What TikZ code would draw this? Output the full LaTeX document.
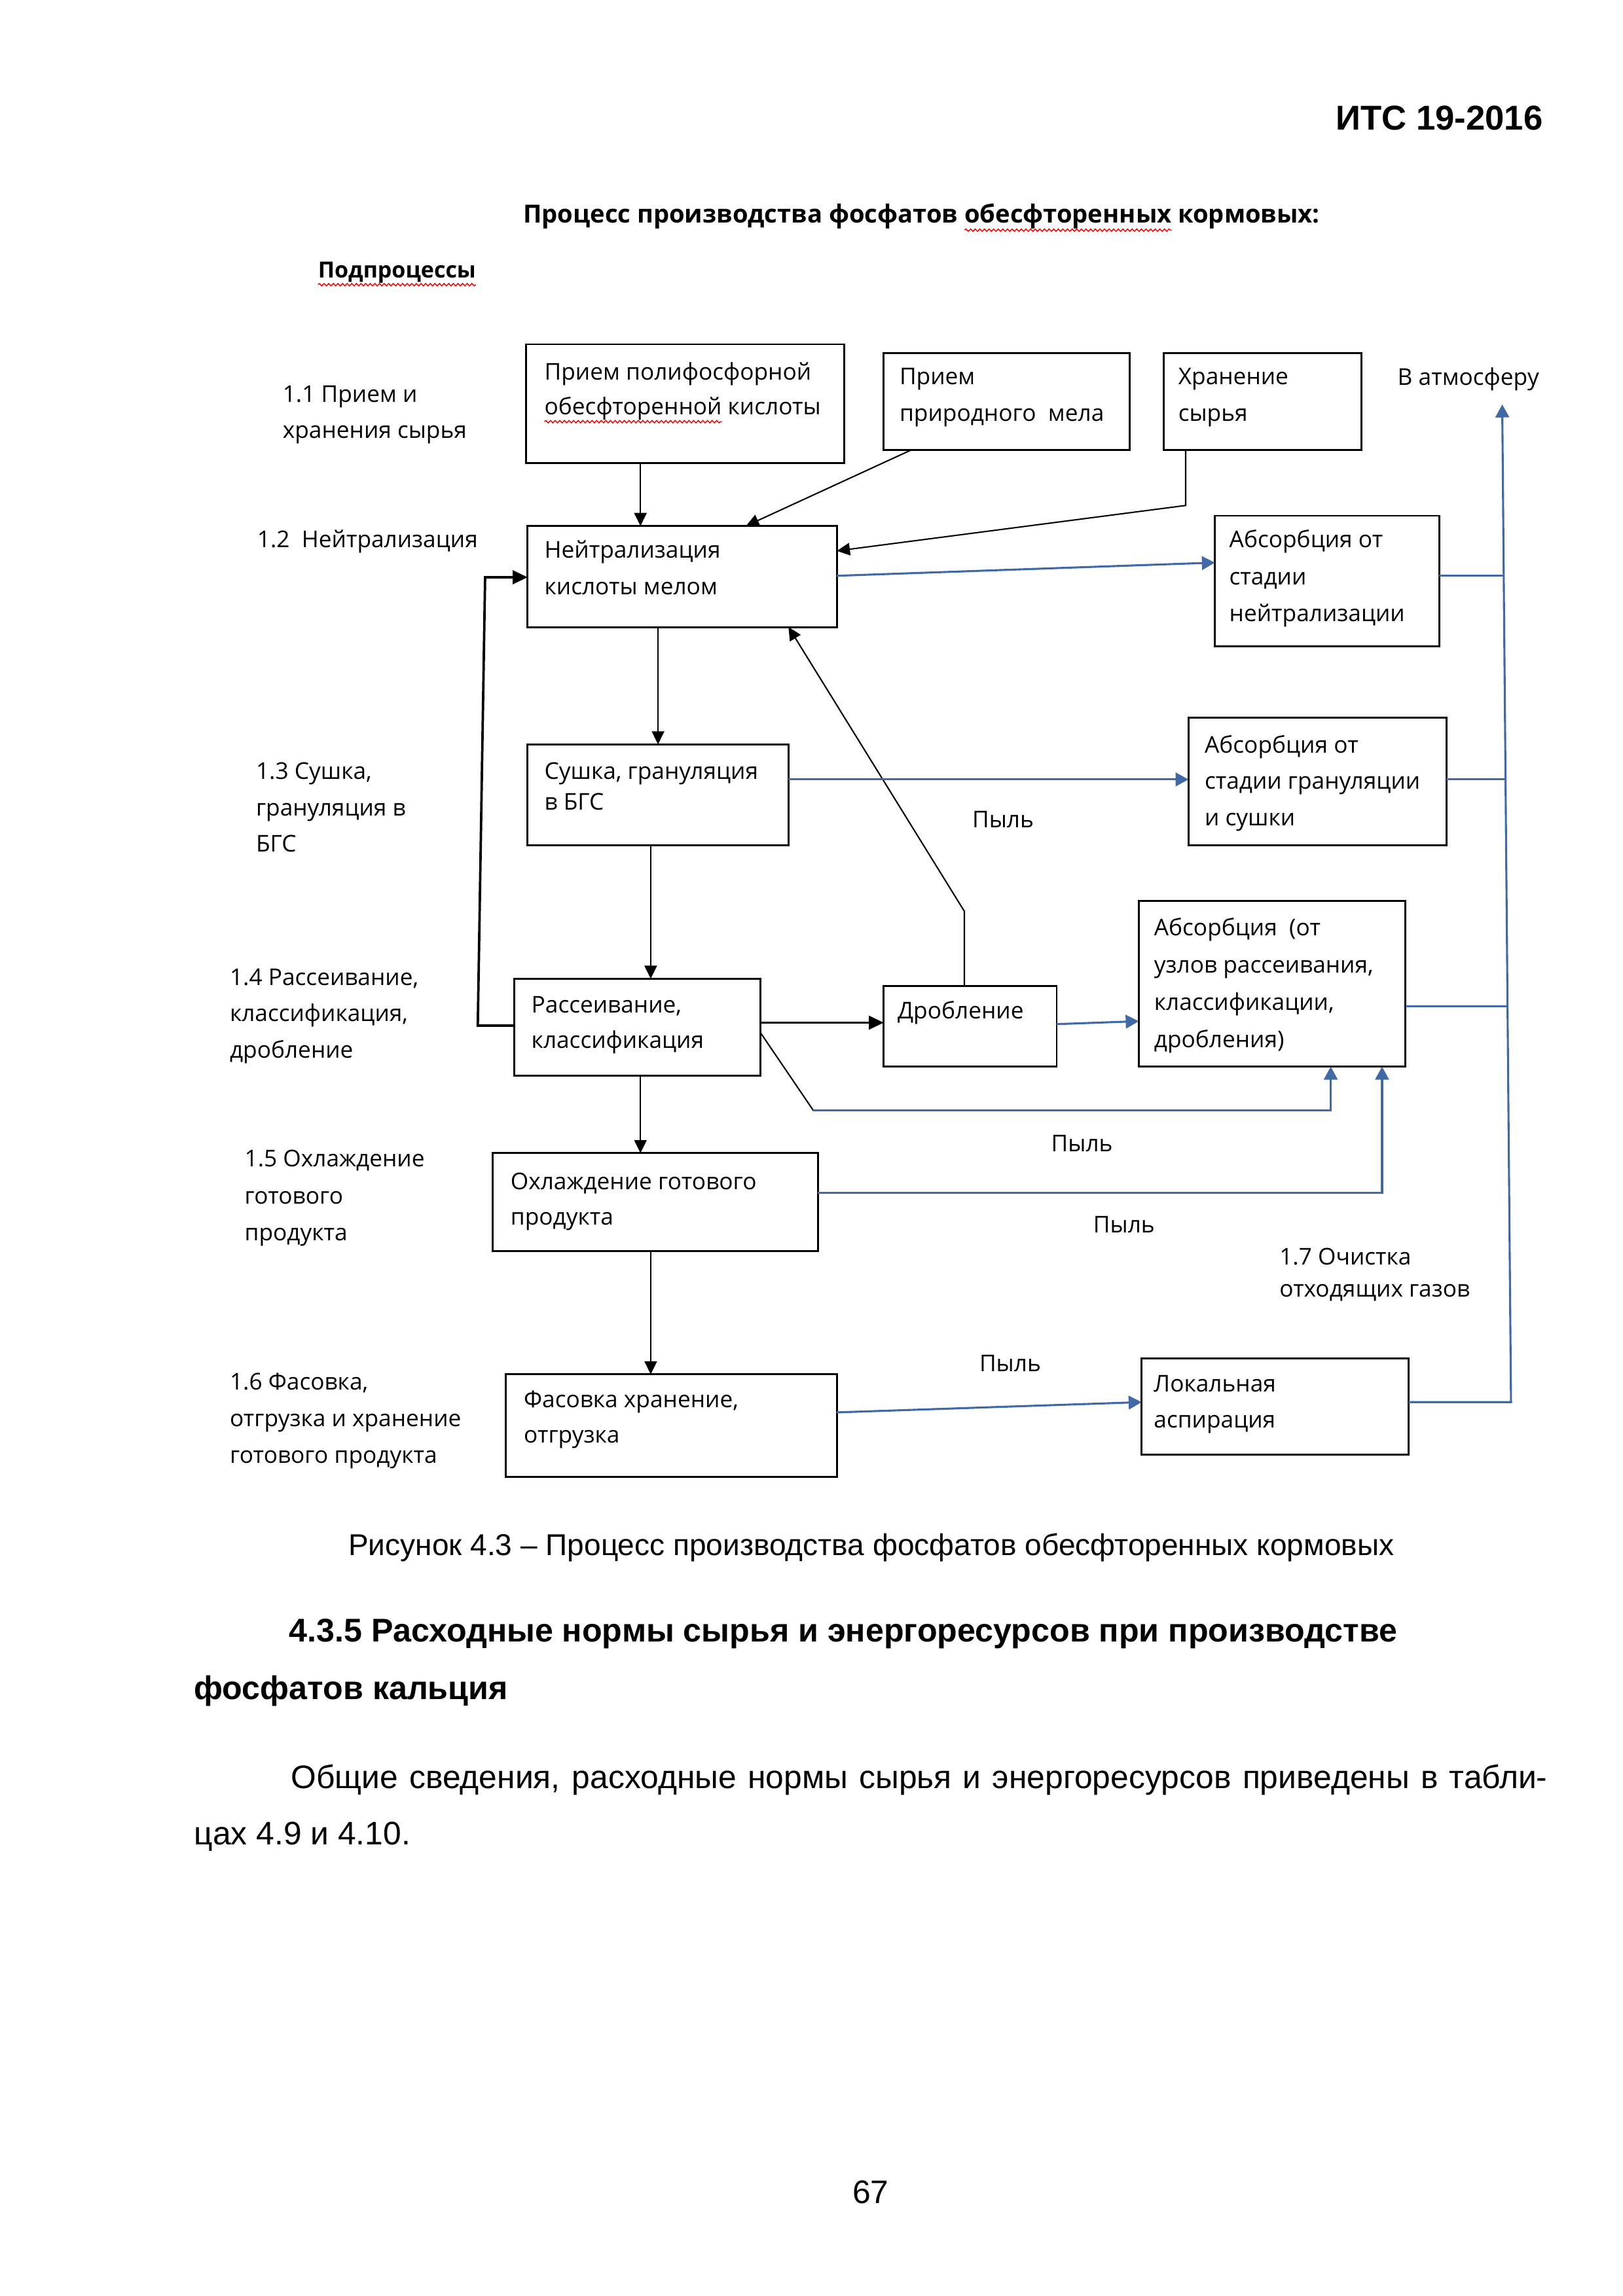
\documentclass[tikz,border=0pt]{standalone}
\usepackage{fontspec}
\setmainfont{Liberation Sans}
\newfontfamily\osans{Open Sans}
\usetikzlibrary{arrows.meta,calc,decorations.pathmorphing}
\definecolor{lnblue}{RGB}{65,105,165}
\newcommand\dstrut{\rule{0pt}{9pt}}
\newcommand\bx[5]{\node[boxst, minimum width={(#4-#2)*0.018963cm}, minimum height={(#5-#3)*0.018963cm}] (#1) at (#2,#3) {};}
\newcommand\dfs[1]{\osans\fontsize{8.5}{#1}\selectfont}
\tikzset{
  boxst/.style={draw, line width=0.7pt, anchor=north west, inner sep=0pt, outer sep=0pt},
  dtx/.style={anchor=north west, inner sep=0pt, outer sep=0pt, align=left,
    font={\dfs{13.2}}, yshift=9pt},
  stx/.style={anchor=base west, inner sep=0pt, outer sep=0pt, font={\dfs{13.2}}},
  btx/.style={anchor=base west, inner sep=0pt, outer sep=0pt, font={\osans\bfseries\fontsize{9.2}{13.2}\selectfont}},
  ptx/.style={anchor=base west, inner sep=0pt, outer sep=0pt, font={\fontsize{12}{14}\selectfont}},
  pbx/.style={anchor=base west, inner sep=0pt, outer sep=0pt, font={\bfseries\fontsize{12.1}{14}\selectfont}},
  arrk/.style={line width=0.5pt, -{Triangle[length=4.8pt,width=4.6pt]}},
  thk/.style={line width=0.9pt, -{Triangle[length=5.5pt,width=5pt]}},
  arrb/.style={color=lnblue, line width=0.75pt, -{Triangle[length=4.8pt,width=5pt]}},
  lnb/.style={color=lnblue, line width=0.75pt},
  wav/.style={draw=red, line width=0.35pt, decorate, decoration={snake, amplitude=0.45pt, segment length=1.7pt}}
}
\begin{document}
\begin{tikzpicture}[x=0.018963cm, y=-0.018963cm]
\fill[white] (0,0) rectangle (1107.4,1567.1);
\useasboundingbox (0,0) rectangle (1107.4,1567.1);

% page header
\node[inner sep=0pt, anchor=base east, font={\bfseries\fontsize{12.7}{15}\selectfont}] (hdr) at (1053,88.5) {ИТС 19-2016};

% diagram title
\node[btx] (tt1) at (357,152.3) {Процесс производства фосфатов\ \null};
\node[btx] (tt2) at (tt1.base east) {обесфторенных};
\node[btx] (tt3) at (tt2.base east) {\ кормовых:};
\draw[wav] ([yshift=-2.6pt]tt2.base west) -- ([yshift=-2.6pt]tt2.base east);
\node[btx, font={\osans\bfseries\fontsize{8.2}{13}\selectfont}] (sub) at (217,189.5) {Подпроцессы};
\draw[wav] ([yshift=-2.6pt]sub.base west) -- ([yshift=-2.6pt]sub.base east);

% boxes
\bx{b1}{359}{235}{576}{316}
\bx{b2}{603}{241}{771}{307}
\bx{b3}{794}{241}{929}{307}
\bx{b4}{360}{359}{571}{428}
\bx{b5}{829}{352}{982}{441}
\bx{b6}{360}{508}{538}{577}
\bx{b7}{811}{490}{987}{577}
\bx{b8}{777}{615}{959}{728}
\bx{b9}{351}{668}{519}{734}
\bx{b10}{603}{673}{721}{728}
\bx{b11}{336}{787}{558}{854}
\bx{b12}{345}{938}{571}{1008}
\bx{b13}{779}{927}{961}{993}

% box texts
\node[dtx] (b1a) at (371.5,259.3) {\dstrut Прием полифосфорной};
\node[dtx] (b1b) at (371.5,283) {\dstrut обесфторенной};
\node[stx] (b1c) at (b1b.base east) {\ кислоты};
\draw[wav] ([yshift=-2.6pt]b1b.base west) -- ([yshift=-2.6pt]b1b.base east);
\node[dtx, font={\dfs{13.45}}] (b2t) at (613.8,262.5) {\dstrut Прием\\природного\ \ мела};
\node[dtx, font={\dfs{13.45}}] (b3t) at (804,262.5) {\dstrut Хранение\\сырья};
\node[dtx, font={\dfs{13.3}}] (b4t) at (371.5,381) {\dstrut Нейтрализация\\кислоты мелом};
\node[dtx, font={\dfs{13.6}}] (b5t) at (838.8,373.8) {\dstrut Абсорбция от\\стадии\\нейтрализации};
\node[dtx, font={\dfs{11.2}}] (b6t) at (371.5,531.9) {\dstrut Сушка, грануляция\\в БГС};
\node[dtx, font={\dfs{13.4}}] (b7t) at (822,513.9) {\dstrut Абсорбция от\\стадии грануляции\\и сушки};
\node[dtx, font={\dfs{13.7}}] (b8t) at (787.5,638.8) {\dstrut Абсорбция\ \ (от\\узлов рассеивания,\\классификации,\\дробления)};
\node[dtx, font={\dfs{12.9}}] (b9t) at (362.6,691.4) {\dstrut Рассеивание,\\классификация};
\node[dtx] (b10t) at (612.5,695.4) {\dstrut Дробление};
\node[dtx, font={\dfs{13.05}}] (b11t) at (348.4,811.7) {\dstrut Охлаждение готового\\продукта};
\node[dtx, font={\dfs{13.2}}] (b12t) at (357.4,960.5) {\dstrut Фасовка хранение,\\отгрузка};
\node[dtx, font={\dfs{13.4}}] (b13t) at (787.3,949.8) {\dstrut Локальная\\аспирация};

% left labels
\node[dtx, font={\dfs{13.3}}] (l1) at (192.9,274.3) {\dstrut 1.1 Прием и\\хранения сырья};
\node[dtx] (l2) at (175.5,373.8) {\dstrut 1.2\ \ Нейтрализация};
\node[dtx, font={\dfs{13.4}}] (l3) at (174.7,531.9) {\dstrut 1.3 Сушка,\\грануляция в\\БГС};
\node[dtx, font={\dfs{13.4}}] (l4) at (156.8,672.4) {\dstrut 1.4 Рассеивание,\\классификация,\\дробление};
\node[dtx, font={\dfs{13.65}}] (l5) at (166.9,796.3) {\dstrut 1.5 Охлаждение\\готового\\продукта};
\node[dtx, font={\dfs{13.4}}] (l6) at (156.8,948.8) {\dstrut 1.6 Фасовка,\\отгрузка и хранение\\готового продукта};
\node[dtx, font={\dfs{11.6}}] (l7) at (873,863.5) {\dstrut 1.7 Очистка\\отходящих газов};

% other labels
\node[dtx] (atm) at (953.6,262.8) {\dstrut В атмосферу};
\node[dtx] (p1) at (663.4,564.7) {\dstrut Пыль};
\node[dtx] (p2) at (717.3,786.2) {\dstrut Пыль};
\node[dtx] (p3) at (746,841.2) {\dstrut Пыль};
\node[dtx] (p4) at (668.3,936.3) {\dstrut Пыль};

% helper coordinates
\coordinate (atmin) at (1025,276);
\coordinate (v1) at (1031,957);
\coordinate (v2) at (1028.6,687);
\coordinate (v3) at (1027.3,532);
\coordinate (v4) at (1026,393);
\coordinate (j1) at (555,758);

% black connectors
\draw[arrk] ($(b1.south west)+(78,0)$) -- ($(b4.north west)+(77,0)$);
\draw[arrk] ($(b2.south west)+(19,0)$) -- ($(b4.north west)+(149,0)$);
\draw[arrk] ($(b3.south west)+(15,0)$) -- ++(0,38) -- ($(b4.north east)+(0,17)$);
\draw[arrk] ($(b4.south west)+(89,0)$) -- ($(b6.north west)+(89,0)$);
\draw[arrk] ($(b6.south west)+(84,0)$) -- ($(b9.north west)+(93,0)$);
\draw[arrk] ($(b9.south west)+(86,0)$) -- ($(b11.north west)+(101,0)$);
\draw[arrk] ($(b11.south west)+(108,0)$) -- ($(b12.north west)+(99,0)$);
\draw[thk] ($(b9.north west)+(0,32)$) -- ++(-25,0) -- ($(b4.north west)+(-29,35)$) -- ($(b4.north west)+(0,35)$);
\draw[thk] ($(b9.north east)+(0,30)$) -- ($(b10.north west)+(0,25)$);
\draw[arrk] ($(b10.north west)+(55,0)$) -- ++(0,-51) -- ($(b4.south east)+(-33,0)$);
\draw[line width=0.5pt] ($(b9.north east)+(0,37)$) -- (j1);

% blue connectors
\draw[arrb] (j1) -| ($(b8.south west)+(131,0)$);
\draw[arrb] ($(b4.north east)+(0,34)$) -- ($(b5.north west)+(0,32)$);
\draw[arrb] ($(b6.north east)+(0,24)$) -- ($(b7.north west)+(0,42)$);
\draw[arrb] ($(b10.north east)+(0,26)$) -- ($(b8.north west)+(0,82)$);
\draw[arrb] ($(b11.north east)+(0,27)$) -| ($(b8.south west)+(166,0)$);
\draw[arrb] ($(b12.north east)+(0,26)$) -- ($(b13.north west)+(0,30)$);
\draw[arrb] ($(b13.north east)+(0,30)$) -- (v1) -- (atmin);
\draw[lnb] ($(b8.north east)+(0,72)$) -- (v2);
\draw[lnb] ($(b7.north east)+(0,42)$) -- (v3);
\draw[lnb] ($(b5.north east)+(0,41)$) -- (v4);

% page text
\node[inner sep=0pt, anchor=base, font={\fontsize{11.1}{14}\selectfont}] (cap) at (594.5,1061.8) {Рисунок 4.3 – Процесс производства фосфатов обесфторенных кормовых};
\node[pbx] (h1) at (197.4,1120.8) {4.3.5 Расходные нормы сырья и энергоресурсов при производстве};
\node[pbx] (h2) at (132.5,1159.9) {фосфатов кальция};
\node[ptx] (bd1) at (198.6,1220.5) {\makebox[16.259cm][s]{Общие сведения, расходные нормы сырья и энергоресурсов приведены в табли-}};
\node[ptx] (bd2) at (132.5,1259) {цах 4.9 и 4.10.};
\node[inner sep=0pt, anchor=base, font={\fontsize{12}{14}\selectfont}] (pg) at (594,1504) {67};
\end{tikzpicture}
\end{document}
